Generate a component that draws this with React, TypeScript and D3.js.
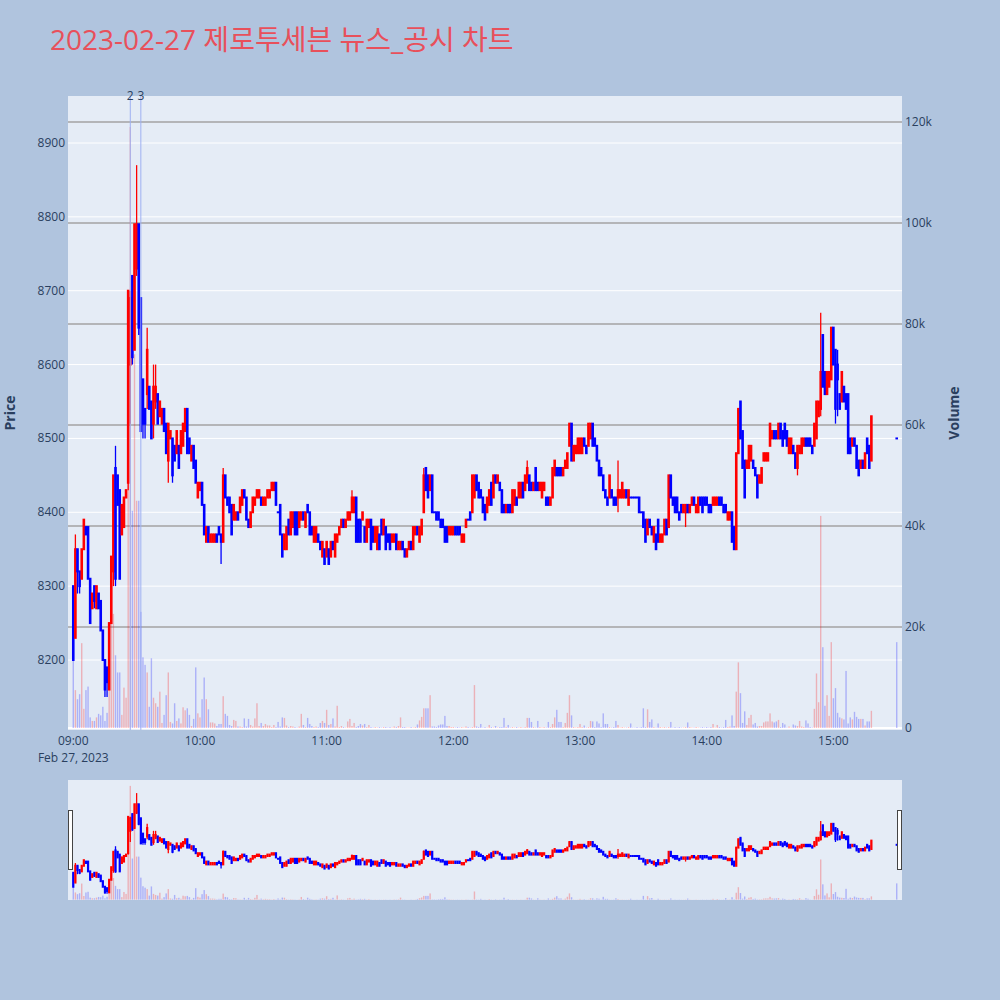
import React from 'react';
import * as d3 from 'd3';

// 2023-02-27 minute bars, one array per hour: [open, close] or [open, close, high, low]
const titleText = '2023-02-27 제로투세븐 뉴스_공시 차트';

const candles09 = [
  [8300, 8200], [8230, 8350, 8370, 8230], [8350, 8320, 8350, 8290], [8320, 8300, 8320, 8290], [8310, 8350], [8350, 8390], [8380, 8370], [8380, 8310], [8310, 8250], [8270, 8290],
  [8300, 8280, 8300, 8270], [8270, 8300], [8290, 8270], [8280, 8240], [8240, 8200], [8200, 8160, 8200, 8150], [8190, 8170, 8190, 8150], [8160, 8250], [8250, 8340], [8320, 8450, 8450, 8300],
  [8460, 8310, 8490, 8300], [8450, 8410], [8430, 8310], [8370, 8410], [8380, 8420], [8420, 8430], [8440, 8700, 8700, 8430], [8600, 8690, 8700, 8520], [8720, 8610, 8720, 8600], [8620, 8790],
  [8730, 8790, 8870, 8720], [8790, 8650, 8790, 8640], [8690, 8510], [8580, 8520, 8580, 8500], [8540, 8520, 8540, 8500], [8560, 8620, 8650, 8540], [8570, 8540], [8550, 8500], [8520, 8570, 8600, 8500], [8550, 8570, 8600, 8540],
  [8560, 8520], [8530, 8550], [8520, 8540], [8540, 8510], [8520, 8480], [8470, 8520, 8520, 8440], [8500, 8510], [8500, 8450, 8500, 8440], [8490, 8470], [8480, 8510],
  [8490, 8460], [8480, 8510], [8490, 8520], [8510, 8540], [8540, 8480], [8500, 8480], [8470, 8490], [8490, 8460], [8470, 8440], [8420, 8440],
];
const candles10 = [
  [8430, 8440], [8440, 8410], [8410, 8370], [8360, 8380], [8380, 8360], [8360, 8370], [8360, 8370], [8360, 8370], [8370, 8360], [8380, 8370],
  [8370, 8360, 8370, 8330], [8360, 8450, 8460, 8360], [8450, 8420], [8420, 8410], [8420, 8400], [8410, 8370], [8390, 8410], [8390, 8400], [8400, 8390], [8400, 8420],
  [8410, 8430], [8430, 8420], [8420, 8390], [8390, 8380], [8380, 8400], [8400, 8420], [8410, 8420], [8420, 8430], [8420, 8430], [8420, 8410],
  [8410, 8420], [8410, 8420], [8420, 8430], [8420, 8430], [8430, 8440], [8430, 8440], [8440, 8410], [8400, 8400], [8410, 8370], [8370, 8340],
  [8350, 8370], [8350, 8380], [8390, 8370], [8370, 8400], [8380, 8400], [8400, 8370], [8400, 8370], [8380, 8400], [8390, 8400], [8400, 8390],
  [8380, 8400], [8410, 8400], [8400, 8370], [8380, 8370], [8360, 8380], [8360, 8380], [8370, 8360], [8360, 8350], [8340, 8360], [8350, 8330],
];
const candles11 = [
  [8340, 8360], [8350, 8330], [8340, 8360], [8360, 8350], [8340, 8370], [8360, 8370], [8370, 8380], [8380, 8390], [8390, 8380], [8380, 8390],
  [8390, 8400], [8390, 8400], [8400, 8420, 8430, 8400], [8400, 8420], [8420, 8360], [8390, 8360], [8390, 8360], [8390, 8400], [8380, 8360], [8360, 8390],
  [8380, 8390], [8390, 8350], [8380, 8360], [8360, 8380], [8350, 8380], [8370, 8350], [8390, 8370], [8370, 8390], [8380, 8350], [8370, 8360],
  [8370, 8350], [8360, 8370], [8360, 8370], [8370, 8350], [8350, 8360], [8350, 8360], [8360, 8350], [8350, 8340], [8340, 8350], [8350, 8360],
  [8360, 8350], [8350, 8380], [8370, 8380], [8380, 8370], [8360, 8380], [8370, 8390], [8400, 8450, 8460, 8400], [8460, 8430], [8450, 8420], [8430, 8450],
  [8450, 8400], [8400, 8400], [8400, 8390], [8400, 8390], [8390, 8380], [8390, 8380], [8380, 8360], [8380, 8360], [8370, 8380], [8370, 8380],
];
const candles12 = [
  [8370, 8380], [8380, 8370], [8380, 8370], [8380, 8370], [8360, 8370], [8360, 8370], [8380, 8390], [8390, 8390], [8400, 8390], [8400, 8450],
  [8420, 8450], [8450, 8430], [8440, 8420], [8430, 8420], [8420, 8400], [8410, 8390], [8400, 8420], [8410, 8430], [8440, 8410], [8420, 8450],
  [8450, 8440], [8440, 8450], [8440, 8430], [8430, 8400], [8410, 8400], [8400, 8410], [8410, 8400], [8410, 8400], [8400, 8430], [8410, 8430],
  [8420, 8410], [8420, 8440], [8420, 8440], [8440, 8420], [8430, 8450], [8440, 8460, 8470, 8440], [8450, 8430], [8440, 8430], [8430, 8440], [8460, 8430],
  [8440, 8430], [8430, 8440], [8420, 8440], [8430, 8440], [8420, 8410], [8420, 8410], [8410, 8420], [8420, 8460], [8450, 8470], [8460, 8450],
  [8460, 8450], [8460, 8450], [8450, 8460], [8460, 8470], [8460, 8480], [8490, 8520], [8520, 8470], [8470, 8490], [8480, 8490], [8480, 8500],
];
const candles13 = [
  [8480, 8500], [8480, 8500], [8500, 8490], [8490, 8480], [8490, 8520], [8500, 8520], [8520, 8490], [8500, 8490], [8490, 8470], [8470, 8450],
  [8460, 8450], [8450, 8430], [8430, 8420], [8420, 8410], [8420, 8450], [8430, 8420], [8420, 8410], [8420, 8410], [8420, 8430, 8470, 8400], [8420, 8430],
  [8420, 8440], [8420, 8430], [8430, 8420], [8410, 8430], [8420, 8420], [8420, 8420], [8420, 8420], [8420, 8420], [8420, 8400], [8400, 8400],
  [8400, 8380], [8390, 8360], [8370, 8390], [8390, 8380], [8380, 8370], [8360, 8380], [8370, 8350], [8390, 8360], [8360, 8370], [8360, 8370],
  [8370, 8390], [8390, 8370], [8380, 8450], [8450, 8420], [8420, 8410], [8420, 8400], [8420, 8400], [8400, 8390], [8410, 8400], [8400, 8410],
  [8400, 8410, 8410, 8380], [8410, 8400], [8400, 8410], [8410, 8420], [8420, 8410], [8400, 8410], [8400, 8420], [8420, 8410], [8420, 8400], [8420, 8410],
];
const candles14 = [
  [8420, 8410], [8410, 8400], [8410, 8400], [8410, 8420], [8410, 8420], [8410, 8420], [8420, 8410], [8420, 8410], [8410, 8400], [8410, 8400],
  [8390, 8400], [8390, 8400], [8400, 8360], [8380, 8350], [8350, 8480], [8480, 8540], [8550, 8500], [8510, 8460], [8470, 8420], [8460, 8470],
  [8460, 8490], [8470, 8490], [8470, 8460], [8460, 8450], [8450, 8420], [8440, 8450], [8440, 8460], [8470, 8480], [8470, 8480], [8470, 8480],
  [8490, 8520], [8500, 8510], [8510, 8500], [8510, 8500], [8500, 8520], [8520, 8500], [8510, 8490], [8520, 8500], [8510, 8490], [8480, 8500],
  [8480, 8500], [8490, 8480], [8480, 8460], [8460, 8490, 8490, 8450], [8480, 8490], [8480, 8500], [8490, 8500], [8500, 8490], [8500, 8490], [8500, 8490],
  [8490, 8480], [8490, 8520], [8500, 8550], [8530, 8550], [8540, 8590, 8670, 8530], [8640, 8570], [8590, 8560], [8560, 8590], [8570, 8590], [8580, 8650],
];
const candles15 = [
  [8650, 8600], [8620, 8540, 8620, 8520], [8600, 8580, 8620, 8530], [8560, 8540], [8550, 8590], [8570, 8550], [8560, 8540], [8560, 8480], [8500, 8480], [8490, 8500],
  [8500, 8490], [8490, 8460], [8470, 8450], [8460, 8470], [8470, 8460], [8460, 8480], [8500, 8480], [8490, 8460], [8470, 8530],
];

// volume per minute, thousand shares
const volumes09 = [14, 7.5, 5.7, 6.7, 16.8, 3.8, 7.5, 8.2, 2.1, 1.4, 1.4, 2.1, 2.8, 2.5, 4.2, 1.4, 3, 9, 28, 22.6, 14.4, 11, 11, 2.6, 8, 6, 80, 119, 43, 74, 45, 45, 23, 14, 12.5, 11, 4.2, 13.8, 6, 4.9, 4.2, 7.2, 1, 2.6, 6.5, 11, 1.2, 0.9, 4.9, 1.4, 1.9, 0.9, 4.1, 3.5, 3.9, 2.6, 0.4, 1.8, 12, 2.9];
const volumes10 = [2.1, 5.7, 10, 5.7, 3.7, 1.1, 1.1, 0.9, 0.4, 0.8, 0.8, 6.3, 2.8, 2.4, 0.6, 0.4, 1.6, 1.4, 0.3, 0.3, 0.2, 1.9, 0.3, 1.8, 0.6, 0.3, 1.9, 4.9, 0.4, 1, 0.4, 0.8, 0.5, 0.5, 0.2, 0.6, 0.2, 1.2, 0.3, 2.1, 2, 0.5, 0.2, 0.4, 0.3, 0.2, 0.1, 0.3, 2.8, 0.6, 0.2, 2, 0.8, 0.4, 0.2, 0.3, 0.2, 1, 1.4, 1];
const volumes11 = [3.6, 0.6, 0.8, 1.9, 0.3, 4.4, 0.2, 0.4, 0.2, 0.1, 1.3, 1.8, 0.4, 1, 0.2, 0.4, 0.8, 0.5, 0.8, 0.2, 0.6, 0.2, 0.1, 0.2, 0.1, 0.2, 0.1, 0.2, 0.2, 0.1, 0.2, 0.1, 0.3, 0.2, 0.4, 2.1, 0.2, 0.2, 0.1, 0.1, 0.2, 0.1, 0.2, 0.7, 1.5, 2.2, 3.9, 3.9, 3.9, 6.5, 0.3, 0.3, 0.2, 0.5, 0.7, 0.7, 2.4, 0.4, 0.4, 0.2];
const volumes12 = [0.2, 0.1, 0.2, 0.1, 0.2, 0.1, 0.3, 0.2, 0.1, 0.2, 8.5, 0.3, 0.2, 0.8, 0.1, 0.2, 0.1, 0.6, 0.2, 0.1, 0.4, 0.1, 0.2, 0.2, 2, 0.2, 0.6, 0.1, 0.2, 0.1, 0.2, 0.1, 0.2, 0.1, 0.2, 2, 2, 1.2, 0.2, 0.1, 1.4, 0.2, 0.1, 0.2, 0.1, 1.2, 0.2, 0.8, 2.1, 3.6, 1.2, 1.2, 0.2, 1, 3, 6.5, 2.5, 0.2, 0.1, 0.2];
const volumes13 = [0.8, 0.2, 0.5, 0.1, 0.2, 1.4, 1.3, 0.2, 1.3, 0.9, 0.2, 2.9, 0.8, 0.8, 0.2, 0.1, 0.2, 1.4, 0.6, 0.1, 0.2, 0.1, 0.1, 0.2, 0.9, 0.1, 0.1, 0.2, 0.1, 0.2, 3.9, 0.2, 3.7, 1.2, 1.7, 0.2, 0.1, 0.9, 0.2, 0.1, 0.2, 0.1, 0.2, 1.2, 0.1, 0.2, 0.1, 0.2, 0.1, 0.1, 0.2, 1.1, 0.2, 0.1, 0.1, 0.2, 0.1, 0.1, 0.2, 0.1];
const volumes14 = [0.2, 0.1, 0.2, 0.8, 0.1, 0.6, 0.2, 0.1, 0.2, 1.6, 0.2, 0.3, 2.5, 0.4, 7.2, 13, 6.9, 1, 3.3, 0.6, 2, 2.6, 0.7, 1, 0.3, 0.4, 0.4, 1.1, 1.3, 1.3, 2.9, 1.3, 1.1, 1.3, 1.6, 0.2, 1, 0.7, 0.1, 0.3, 0.1, 0.7, 0.5, 0.4, 1.4, 0.3, 0.2, 1.5, 0.9, 0.2, 0.1, 3.8, 10.8, 5.1, 42, 16, 4.4, 6.5, 2.4, 17];
const volumes15 = [5.9, 7.9, 3, 2.1, 1.9, 1.7, 11.3, 0.9, 2.1, 1.7, 3.2, 2.2, 1.8, 1.8, 1.8, 0.5, 1.3, 1.3, 3.4];

// closing single-price auction at 15:30
const closingAuction = { hour: 15, minute: 30, price: 8500, volume: 17 };

const priceTicks = [8200, 8300, 8400, 8500, 8600, 8700, 8800, 8900];
const volumeTicks = [0, 20, 40, 60, 80, 100, 120];
const volumeTickLabels = ['0', '20k', '40k', '60k', '80k', '100k', '120k'];
const timeTicks = [9, 10, 11, 12, 13, 14, 15];
const timeTickLabels = ['09:00', '10:00', '11:00', '12:00', '13:00', '14:00', '15:00'];
const newsMarkers = [{ label: '2', hour: 9, minute: 27 }, { label: '3', hour: 9, minute: 32 }];

const hourCandles = [candles09, candles10, candles11, candles12, candles13, candles14, candles15];
const hourVolumes = [volumes09, volumes10, volumes11, volumes12, volumes13, volumes14, volumes15];

const font = '"Open Sans", "Noto Sans CJK KR", verdana, arial, sans-serif';
const textColor = '#2a3f5f';
const UP = '#ff0000';
const DOWN = '#0000ff';

const plot = { left: 68, right: 902, top: 96, bottom: 730 };
const slider = { top: 780, bottom: 900 };

const day = (h: number, m: number, s = 0) => new Date(2023, 1, 27, h, m, s);

interface Bar { t: Date; o: number; c: number; h: number; l: number; v: number }

const bars: Bar[] = [];
hourCandles.forEach((arr, hi) => {
  arr.forEach((d, i) => {
    const [o, c, h, l] = d;
    bars.push({
      t: day(9 + hi, i), o, c,
      h: Math.max(o, c, h ?? 0),
      l: Math.min(o, c, l ?? 99999),
      v: hourVolumes[hi][i],
    });
  });
});
bars.push({
  t: day(closingAuction.hour, closingAuction.minute),
  o: closingAuction.price, c: closingAuction.price, h: closingAuction.price, l: closingAuction.price,
  v: closingAuction.volume,
});

const App: React.FC = () => {
  const x = d3.scaleTime()
    .domain([day(8, 57, 30), day(15, 32, 30)])
    .range([plot.left, plot.right]);
  const yPrice = d3.scaleLinear().domain([8200, 8900]).range([660, 143]);
  const yVol = d3.scaleLinear().domain([0, 120]).range([728, 122]);
  const ySPrice = d3.scaleLinear()
    .domain([yPrice.invert(plot.bottom), yPrice.invert(plot.top)])
    .range([slider.bottom, slider.top]);
  const ySVol = d3.scaleLinear()
    .domain([yVol.invert(plot.bottom), yVol.invert(plot.top)])
    .range([slider.bottom, slider.top]);

  const candleMarks = (yS: d3.ScaleLinear<number, number>, bodyW: number, keyPrefix: string) =>
    bars.map((b, i) => {
      const cx = x(b.t);
      const col = b.c > b.o ? UP : DOWN;
      const top = yS(Math.max(b.o, b.c));
      const bot = yS(Math.min(b.o, b.c));
      const hgt = Math.max(bot - top, 0) + 2;
      return (
        <g key={keyPrefix + i}>
          <line x1={cx} x2={cx} y1={yS(b.h)} y2={yS(b.l)} stroke={col} strokeWidth={1.3} />
          <rect x={cx - bodyW / 2} y={top - 1} width={bodyW} height={hgt} fill={col} />
        </g>
      );
    });

  const volumeMarks = (yS: d3.ScaleLinear<number, number>, w: number, keyPrefix: string) =>
    bars.map((b, i) => {
      const cx = x(b.t);
      const col = b.c > b.o ? UP : DOWN;
      return (
        <rect key={keyPrefix + i} x={cx - w / 2} y={yS(b.v)} width={w}
          height={Math.max(yS(0) - yS(b.v), 0)} fill={col} fillOpacity={0.25} />
      );
    });

  return (
    <svg width={1000} height={1000} style={{ position: 'absolute', left: 0, top: 0, fontFamily: font }}>
      <defs>
        <clipPath id="plotClip">
          <rect x={plot.left} y={plot.top} width={plot.right - plot.left} height={plot.bottom - plot.top} />
        </clipPath>
        <clipPath id="sliderClip">
          <rect x={plot.left} y={slider.top} width={plot.right - plot.left} height={slider.bottom - slider.top} />
        </clipPath>
      </defs>
      <rect x={0} y={0} width={1000} height={1000} fill="#b0c4de" />

      <text x={50} y={50} fontSize={28} fill="#e8505b">{titleText}</text>

      <rect x={plot.left} y={plot.top} width={plot.right - plot.left} height={plot.bottom - plot.top} fill="#e5ecf6" />

      {priceTicks.map(p => (
        <line key={'pg' + p} x1={plot.left} x2={plot.right} y1={yPrice(p)} y2={yPrice(p)} stroke="#ffffff" strokeWidth={1} />
      ))}
      {volumeTicks.filter(v => v > 0).map(v => (
        <line key={'vg' + v} x1={plot.left} x2={plot.right} y1={yVol(v)} y2={yVol(v)} stroke="#a3a3a3" strokeWidth={1.3} />
      ))}
      <line x1={plot.left} x2={plot.right} y1={yVol(0)} y2={yVol(0)} stroke="#ffffff" strokeWidth={2} />

      <g clipPath="url(#plotClip)">
        {candleMarks(yPrice, 2.6, 'c')}
        {volumeMarks(yVol, 1.4, 'v')}
        {newsMarkers.map(n => (
          <line key={'nm' + n.label} x1={x(day(n.hour, n.minute))} x2={x(day(n.hour, n.minute))}
            y1={plot.top} y2={plot.bottom} stroke="#9fb1f2" strokeWidth={1} />
        ))}
      </g>
      {newsMarkers.map(n => (
        <text key={'nt' + n.label} x={x(day(n.hour, n.minute))} y={100} fontSize={12} fill={textColor} textAnchor="middle">{n.label}</text>
      ))}

      {priceTicks.map(p => (
        <text key={'pt' + p} x={65} y={yPrice(p) + 4} fontSize={12} fill={textColor} textAnchor="end">{p}</text>
      ))}
      {volumeTicks.map((v, i) => (
        <text key={'vt' + v} x={905} y={yVol(v) + 4} fontSize={12} fill={textColor}>{volumeTickLabels[i]}</text>
      ))}
      {timeTicks.map((h, i) => (
        <text key={'tt' + h} x={x(day(h, 0))} y={745} fontSize={12} fill={textColor} textAnchor="middle">{timeTickLabels[i]}</text>
      ))}
      <text x={x(day(9, 0))} y={762} fontSize={12} fill={textColor} textAnchor="middle">Feb 27, 2023</text>

      <text transform={`translate(15,${(plot.top + plot.bottom) / 2}) rotate(-90)`} fontSize={14} fontWeight="bold"
        fill={textColor} textAnchor="middle">Price</text>
      <text transform={`translate(959,${(plot.top + plot.bottom) / 2}) rotate(-90)`} fontSize={14} fontWeight="bold"
        fill={textColor} textAnchor="middle">Volume</text>

      {/* range slider */}
      <rect x={plot.left} y={slider.top} width={plot.right - plot.left} height={slider.bottom - slider.top} fill="#e5ecf6" />
      <g clipPath="url(#sliderClip)">
        {candleMarks(ySPrice, 2.2, 's')}
        {volumeMarks(ySVol, 1.4, 'sv')}
      </g>
      <rect x={plot.left + 0.5} y={810.5} width={4} height={59} fill="#ffffff" stroke="#444" strokeWidth={1} />
      <rect x={plot.right - 4.5} y={810.5} width={4} height={59} fill="#ffffff" stroke="#444" strokeWidth={1} />
    </svg>
  );
};

export default App;
